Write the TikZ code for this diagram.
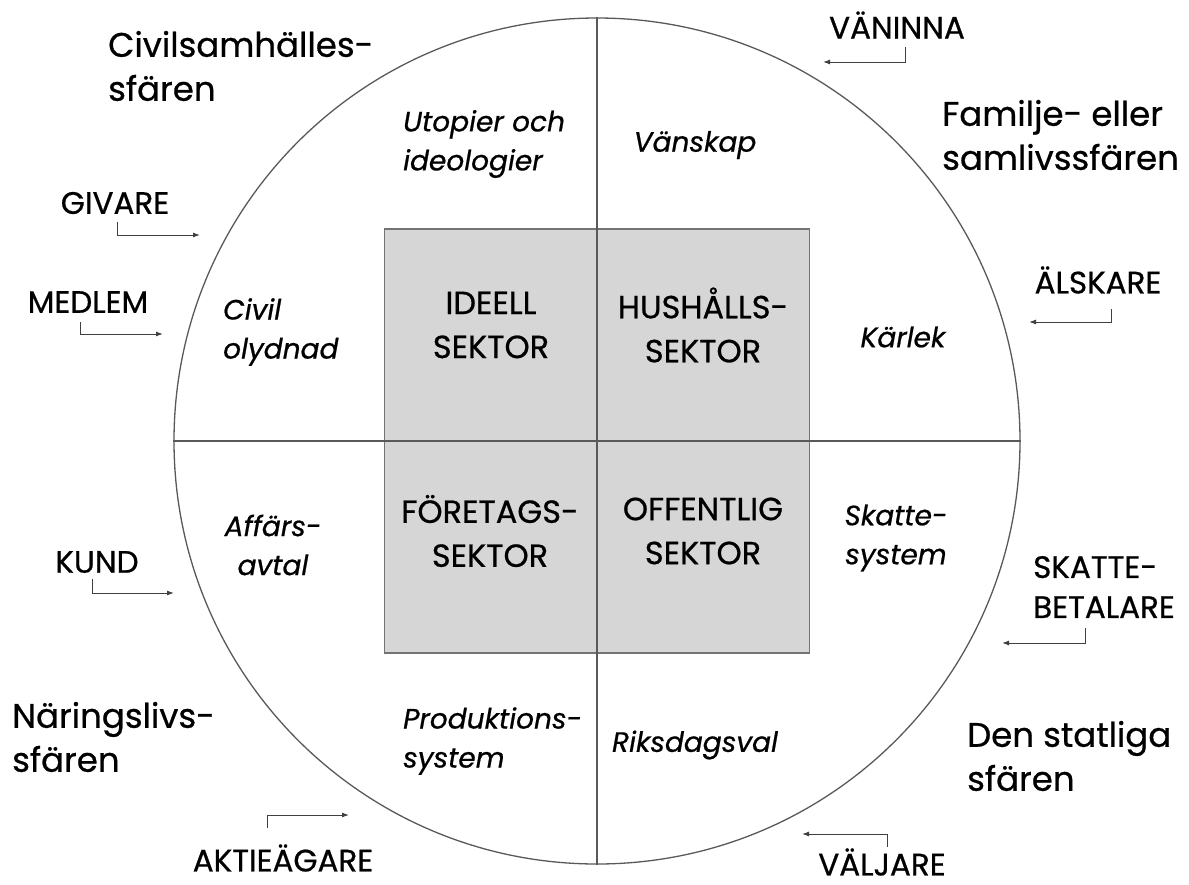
\documentclass[tikz,border=0pt]{standalone}
\usepackage{fontspec}
\setmainfont{Poppins}[FakeBold=0.7]
\usetikzlibrary{arrows.meta}
\tikzset{
  big/.style={font=\fontsize{34}{44}\selectfont, align=left, inner sep=0pt},
  caps/.style={font=\fontsize{31}{40}\selectfont, align=left, inner sep=0pt},
  sector/.style={font=\fontsize{32}{44}\selectfont, align=center, inner sep=0pt},
  ital/.style={font=\fontsize{28}{39}\selectfont\itshape, inner sep=0pt},
  axis/.style={draw=black!65, line width=1.3pt},
  pointer/.style={draw=black!75, line width=1pt, -{Latex[length=7pt,width=5pt]}},
}
\begin{document}
\begin{tikzpicture}[x=1pt,y=-1pt]
\useasboundingbox (0,0) rectangle (1189,884);
% square
\node[draw=black!55, fill=black!16, line width=1.2pt, minimum width=425pt, minimum height=424pt, inner sep=0pt] (sq) at (597,441) {};
% circle and axes
\node[draw=black!65, line width=1.3pt, circle, minimum size=846pt, inner sep=0pt] (circ) at (597,441) {};
\draw[axis] (circ.north) -- (circ.south);
\draw[axis] (circ.west) -- (circ.east);
% sector labels
\node[sector] (ideell) at (491,325) {IDEELL\\SEKTOR};
\node[sector] (hush) at (703,325) {HUSHÅLLS-\\SEKTOR};
\node[sector] (foret) at (490,531) {FÖRETAGS-\\SEKTOR};
\node[sector] (offent) at (703,531) {OFFENTLIG\\SEKTOR};
% italic inner texts
\node[ital, align=left, anchor=west] (utop) at (403,144) {Utopier och\\ideologier};
\node[ital] (vansk) at (695,145) {Vänskap};
\node[ital, align=left, anchor=west] (civil) at (223,332) {Civil\\olydnad};
\node[ital] (karlek) at (903,337) {Kärlek};
\node[ital, align=center] (affar) at (273,545) {Affärs-\\avtal};
\node[ital, align=center] (skatte) at (896,538) {Skatte-\\system};
\node[ital, align=left, anchor=west] (prod) at (403,741) {Produktions-\\system};
\node[ital] (riks) at (695,745) {Riksdagsval};
% sphere labels
\node[big, anchor=west] (civsf) at (108,66) {Civilsamhälles-\\sfären};
\node[big, anchor=west] (famsf) at (942,135) {Familje- eller\\samlivssfären};
\node[big, anchor=west] (narsf) at (12,737) {Näringslivs-\\sfären};
\node[big, anchor=west] (statsf) at (967,756) {Den statliga\\sfären};
% role labels
\node[caps] (vaninna) at (897,25) {VÄNINNA};
\node[caps] (givare) at (115,203) {GIVARE};
\node[caps] (medlem) at (88,302) {MEDLEM};
\node[caps] (alskare) at (1098,280) {ÄLSKARE};
\node[caps] (kund) at (97,562) {KUND};
\node[caps, anchor=west] (skbet) at (1033,587) {SKATTE-\\BETALARE};
\node[caps] (aktie) at (283,858) {AKTIEÄGARE};
\node[caps] (valjare) at (882,862) {VÄLJARE};
% pointer coordinates
\coordinate (vaS) at (905,47);  \coordinate (vaE) at (823,62);
\coordinate (giS) at (117,222); \coordinate (giE) at (200,235);
\coordinate (meS) at (80,322);  \coordinate (meE) at (163,334);
\coordinate (alS) at (1111,309);\coordinate (alE) at (1029,322);
\coordinate (kuS) at (92,579);  \coordinate (kuE) at (174,593);
\coordinate (skS) at (1085,628);\coordinate (skE) at (1002,643);
\coordinate (akS) at (267,828); \coordinate (akE) at (349,815);
\coordinate (vjS) at (887,847); \coordinate (vjE) at (802,834);
\draw[pointer] (vaS) |- (vaE);
\draw[pointer] (giS) |- (giE);
\draw[pointer] (meS) |- (meE);
\draw[pointer] (alS) |- (alE);
\draw[pointer] (kuS) |- (kuE);
\draw[pointer] (skS) |- (skE);
\draw[pointer] (akS) |- (akE);
\draw[pointer] (vjS) |- (vjE);
\end{tikzpicture}
\end{document}
